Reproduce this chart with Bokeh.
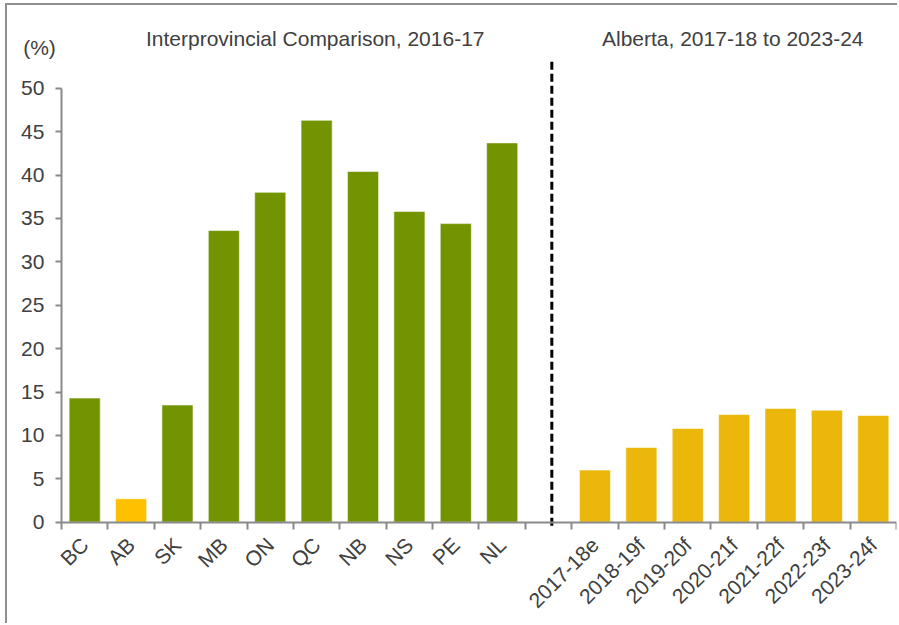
import math
import numpy as np
from bokeh.plotting import figure
from bokeh.models import (Range1d, FixedTicker, CustomJSTickFormatter, Label,
                          ColumnDataSource)
from bokeh.embed import file_html
from bokeh.resources import INLINE

# ---------------- data ----------------
provinces = ["BC", "AB", "SK", "MB", "ON", "QC", "NB", "NS", "PE", "NL"]
province_values = [14.3, 2.7, 13.5, 33.6, 38.0, 46.3, 40.4, 35.8, 34.4, 43.7]
alberta_years = ["2017-18e", "2018-19f", "2019-20f", "2020-21f",
                 "2021-22f", "2022-23f", "2023-24f"]
alberta_values = [6.0, 8.6, 10.8, 12.4, 13.1, 12.9, 12.3]
y_ticks = [0, 5, 10, 15, 20, 25, 30, 35, 40, 45, 50]
left_title = "Interprovincial Comparison, 2016-17"
right_title = "Alberta, 2017-18 to 2023-24"
unit_label = "(%)"

GREEN = "#729400"
AB_YELLOW = "#FFC000"
FORECAST_YELLOW = "#EBB70B"
TEXT = "#404040"
AXIS = "#8a8a8a"
FONT = "Liberation Sans"
FS = "21px"

# ---------------- layout of categories ----------------
labels_all = provinces + [""] + alberta_years       # one blank slot as separator
n_slots = len(labels_all)
gap_index = len(provinces)

prov_x = np.arange(len(provinces)) + 0.5
alb_x = np.arange(len(alberta_years)) + gap_index + 1 + 0.5
prov_colors = [AB_YELLOW if c == "AB" else GREEN for c in provinces]

src = ColumnDataSource(dict(
    x=list(prov_x) + list(alb_x),
    top=province_values + alberta_values,
    color=prov_colors + [FORECAST_YELLOW] * len(alberta_years),
))

# the frame covers almost the whole canvas; both axes sit at fixed data locations
p = figure(width=892, height=620,
           x_range=Range1d(-1.142, n_slots), y_range=Range1d(-11.786, 57.8),
           output_backend="svg", toolbar_location=None,
           min_border_left=1, min_border_right=3,
           min_border_top=15, min_border_bottom=1)
p.styles = {"margin-left": "5px", "margin-top": "3px",
            "border-left": "2px solid #8f8f8f", "border-top": "2px solid #8f8f8f"}
p.outline_line_color = None
p.grid.visible = False
p.background_fill_color = "white"
p.border_fill_color = "white"

p.vbar(x="x", top="top", width=0.67, source=src, fill_color="color",
       line_color="white", line_alpha=0.55, line_width=1)

# dashed separator in the blank slot
p.segment(x0=[gap_index + 0.57], x1=[gap_index + 0.57], y0=[-0.4], y1=[53.4],
          line_color="black", line_width=3, line_dash="8 4")

# ---------------- axes ----------------
xa = p.xaxis[0]
xa.fixed_location = 0
centers = [i + 0.5 for i in range(n_slots) if i != gap_index]
xa.ticker = FixedTicker(ticks=centers, minor_ticks=list(range(n_slots + 1)))
xa.formatter = CustomJSTickFormatter(args=dict(labels=labels_all),
                                     code="return labels[Math.floor(tick)] || '';")
xa.bounds = (0, n_slots)
xa.major_tick_in = 0
xa.major_tick_out = 0
xa.minor_tick_in = 0
xa.minor_tick_out = 7
xa.minor_tick_line_color = AXIS
xa.minor_tick_line_width = 2
xa.axis_line_color = AXIS
xa.axis_line_width = 2
xa.major_label_orientation = math.pi / 4
xa.major_label_text_font = FONT
xa.major_label_text_font_size = FS
xa.major_label_text_color = TEXT
xa.major_label_standoff = 12

ya = p.yaxis[0]
ya.fixed_location = 0
ya.ticker = FixedTicker(ticks=y_ticks)
ya.bounds = (0, 50)
ya.major_tick_in = 0
ya.major_tick_out = 6
ya.minor_tick_line_color = None
ya.major_tick_line_color = AXIS
ya.major_tick_line_width = 2
ya.axis_line_color = AXIS
ya.axis_line_width = 2
ya.major_label_text_font = FONT
ya.major_label_text_font_size = FS
ya.major_label_text_color = TEXT
ya.major_label_standoff = 11

# ---------------- titles ----------------
for txt, xpos in [(left_title, 5.47), (right_title, 14.47)]:
    p.add_layout(Label(x=xpos, y=55.73, text=txt, text_align="center",
                       text_baseline="middle", text_font=FONT,
                       text_font_size=FS, text_color=TEXT))
p.add_layout(Label(x=-0.825, y=54.7, text=unit_label, text_align="left",
                   text_baseline="middle", text_font=FONT,
                   text_font_size=FS, text_color=TEXT))

open("out.html", "w").write(file_html(p, INLINE))
